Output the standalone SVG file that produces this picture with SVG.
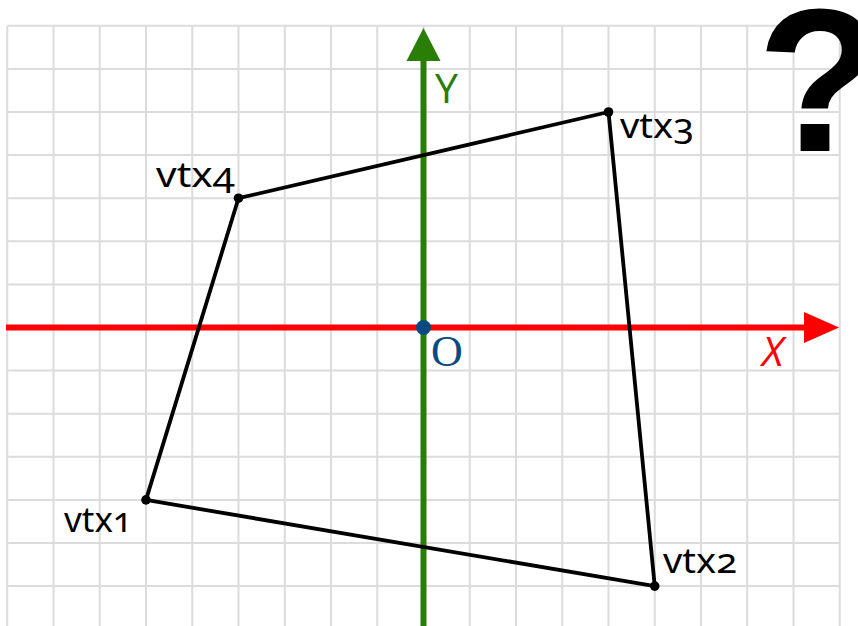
<svg xmlns="http://www.w3.org/2000/svg" width="858" height="626" viewBox="0 0 858 626">
<style>
.grid{stroke:#dcdcdc;stroke-width:2;fill:none}
.edge{stroke:#000;stroke-width:3.8;fill:none;stroke-linecap:round}
.dot{fill:#000}
.vl{font-family:"Noto Sans","DejaVu Sans",sans-serif;font-size:34px;fill:#000;font-variant-numeric:oldstyle-nums;font-feature-settings:"onum" 1}
</style>
<rect width="858" height="626" fill="#fff"/>
<g id="grid">
<path class="grid" d="M7.25 26V626M53.5 26V626M99.75 26V626M146 26V626M192.25 26V626M238.5 26V626M284.75 26V626M331 26V626M377.25 26V626M423.5 26V626M469.75 26V626M516 26V626M562.25 26V626M608.5 26V626M654.75 26V626M701 26V626M747.25 26V626M793.5 26V626M839.75 26V626
M7.25 25.8H839.75M7.25 68.9H839.75M7.25 112H839.75M7.25 155.1H839.75M7.25 198.2H839.75M7.25 241.3H839.75M7.25 284.4H839.75M7.25 327.5H839.75M7.25 370.6H839.75M7.25 413.7H839.75M7.25 456.8H839.75M7.25 499.9H839.75M7.25 543H839.75M7.25 586.1H839.75"/>
</g>
<g id="x-axis">
<line x1="6" y1="327.5" x2="806" y2="327.5" stroke="#ff0000" stroke-width="6"/>
<polygon points="839,327.5 804,312 804,343" fill="#ff0000"/>
<text x="762" y="366" font-family="'Open Sans','DejaVu Sans',sans-serif" font-style="italic" font-size="41" fill="#ff0000">X</text>
</g>
<g id="y-axis">
<line x1="423.5" y1="626" x2="423.5" y2="59" stroke="#2a7e05" stroke-width="6"/>
<polygon points="423.5,28 406.5,61 440.5,61" fill="#2a7e05"/>
<text x="435" y="103" font-family="'Open Sans','DejaVu Sans',sans-serif" font-size="41" fill="#2a7e05">Y</text>
</g>
<g id="connectors">
<polygon class="edge" points="146,499.9 654.75,586.1 608.5,112 238.5,198.2" stroke-linejoin="round"/>
</g>
<g id="origin">
<circle cx="423.5" cy="327.5" r="7.5" fill="#0b4a80"/>
<text x="431" y="366" font-family="'Liberation Serif',serif" font-size="44" fill="#0b4a80">O</text>
</g>
<g id="vtx1">
<circle class="dot" cx="146" cy="499.9" r="4.8"/>
<text class="vl" x="64" y="531.5" textLength="68" lengthAdjust="spacingAndGlyphs">vtx1</text>
</g>
<g id="vtx2">
<circle class="dot" cx="654.75" cy="586.1" r="4.8"/>
<text class="vl" x="663" y="573" textLength="74" lengthAdjust="spacingAndGlyphs">vtx2</text>
</g>
<g id="vtx3">
<circle class="dot" cx="608.5" cy="112" r="4.8"/>
<text class="vl" x="620" y="138" textLength="74" lengthAdjust="spacingAndGlyphs">vtx3</text>
</g>
<g id="vtx4">
<circle class="dot" cx="238.5" cy="198.2" r="4.8"/>
<text class="vl" x="156" y="187" textLength="79" lengthAdjust="spacingAndGlyphs">vtx4</text>
</g>
<g id="question">
<text x="757" y="151" font-family="'Liberation Sans',Arial,sans-serif" font-weight="bold" font-size="204" fill="#000">?</text>
</g>
</svg>
